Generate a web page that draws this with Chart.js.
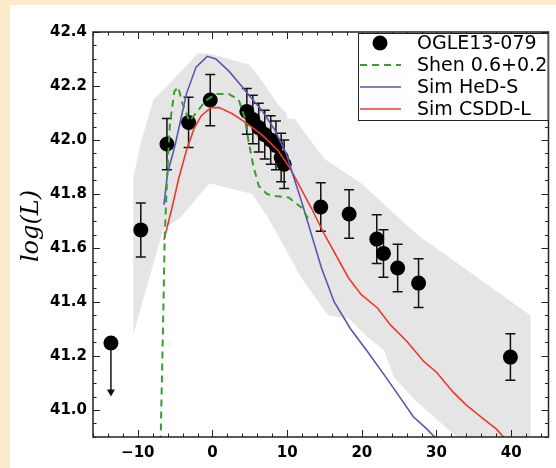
<!DOCTYPE html>
<html>
<head>
<meta charset="utf-8">
<script src="https://cdn.jsdelivr.net/npm/chart.js@4/dist/chart.umd.min.js"></script>
<style>
  html, body { margin: 0; padding: 0; background: #fcebcb; }
  #wrap { position: absolute; left: 0; top: 0; width: 556px; height: 468px; }
</style>
</head>
<body>
<div id="wrap"><canvas id="chart" width="556" height="468"></canvas></div>
<script>
// Axis limits and tick labels
const X_MIN = -16, X_MAX = 45;
const Y_MIN = 40.9, Y_MAX = 42.4;
const xTicks = [-10, 0, 10, 20, 30, 40];
const yTicks = [41.0, 41.2, 41.4, 41.6, 41.8, 42.0, 42.2, 42.4];

// OGLE13-079 photometry (days, log L, 1-sigma)
const obsX = [-9.6, -6.1, -3.2, -0.3, 4.6, 5.4, 6.2, 7.0, 7.8, 8.5, 9.2, 9.6, 14.5, 18.3, 22.0, 22.9, 24.8, 27.6, 39.9];
const obsY = [41.667, 41.985, 42.065, 42.148, 42.106, 42.076, 42.046, 42.02, 42.0, 41.98, 41.935, 41.91, 41.752, 41.726, 41.633, 41.58, 41.526, 41.47, 41.196];
const obsErr = [0.10, 0.095, 0.093, 0.095, 0.085, 0.09, 0.09, 0.09, 0.09, 0.09, 0.09, 0.09, 0.09, 0.09, 0.09, 0.088, 0.088, 0.09, 0.086];

// upper limit
const limX = [-13.6];
const limY = [41.248];
const limArrowTo = [41.05];

// Shen 0.6+0.2 model
const shenX = [-6.95, -6.6, -6.4, -6.04, -5.7, -5.1, -4.6, -4.0, -3.1, -2.2, -0.9, 0.45, 2.2, 3.5, 4.3, 4.8, 5.5, 6.2, 7.3, 8.4, 10.2, 11.9, 12.8];
const shenY = [40.88, 41.34, 41.64, 41.886, 42.06, 42.18, 42.196, 42.134, 42.07, 42.10, 42.146, 42.17, 42.17, 42.15, 42.084, 42.0, 41.9, 41.83, 41.80, 41.793, 41.787, 41.75, 41.71];

// Sim HeD-S
const hedX = [-6.5, -6.0, -5.3, -4.85, -3.5, -2.2, -0.7, 0.45, 2.2, 4.0, 4.9, 6.6, 8.4, 9.9, 10.6, 11.9, 14.6, 16.3, 18.5, 20.75, 23.0, 25.2, 26.9, 28.7, 30.1];
const hedY = [41.76, 41.88, 41.95, 42.0, 42.17, 42.27, 42.31, 42.30, 42.255, 42.196, 42.165, 42.11, 42.035, 41.948, 41.886, 41.775, 41.526, 41.40, 41.30, 41.217, 41.13, 41.043, 40.975, 40.93, 40.89];

// Sim CSDD-L
const csddX = [-6.5, -5.5, -4.5, -3.5, -2.5, -1.5, -0.2, 0.9, 2.65, 4.4, 6.6, 8.8, 10.4, 13.2, 15.0, 18.2, 19.9, 22.1, 23.8, 26.05, 28.3, 30.0, 32.2, 34.0, 36.2, 38.0, 39.3];
const csddY = [41.63, 41.74, 41.86, 41.96, 42.04, 42.09, 42.12, 42.12, 42.097, 42.065, 42.02, 41.96, 41.895, 41.75, 41.65, 41.49, 41.428, 41.378, 41.316, 41.254, 41.18, 41.14, 41.067, 41.018, 40.969, 40.93, 40.89];

// grey model envelope: upper edge left->right, then lower edge right->left
const bandUpperX = [-10.6, -9.5, -7.9, -5.7, -3.0, -2.0, -0.7, 1.0, 2.2, 4.9, 6.6, 8.8, 9.9, 10.0, 11.0, 12.8, 15.0, 19.9, 27.4, 42.6];
const bandUpperY = [41.86, 42.0, 42.15, 42.21, 42.29, 42.32, 42.32, 42.31, 42.30, 42.28, 42.22, 42.13, 42.10, 42.08, 42.08, 42.01, 41.93, 41.84, 41.65, 41.35];
const bandLowerX = [42.6, 36.8, 27.4, 24.3, 23.0, 20.75, 18.2, 15.5, 11.9, 7.5, 5.3, -0.4, -4.4, -6.6, -10.6];
const bandLowerY = [40.8, 40.8, 41.03, 41.12, 41.22, 41.27, 41.34, 41.35, 41.49, 41.71, 41.80, 41.84, 41.71, 41.67, 41.28];

const COLORS = {
    shen: '#35a02b',
    hed: '#5a55b0',
    csdd: '#f0392c',
    band: '#e5e5e5'
};

const toPts = (xs, ys) => xs.map((x, i) => ({ x: x, y: ys[i] }));

const tickFont = { family: 'DejaVu Sans', size: 15, weight: 'bold' };

// error bars, axes frame with inward ticks, legend, y label, upper-limit arrow
const figurePlugin = {
    id: 'figure',
    beforeDraw(chart) {
        const ctx = chart.ctx;
        ctx.save();
        ctx.fillStyle = '#ffffff';
        ctx.fillRect(10, 5, chart.width - 10, chart.height - 5);
        ctx.restore();
    },
    beforeDatasetDraw(chart, args) {
        if (args.index !== 1) return;
        const { ctx, scales: { x, y } } = chart;
        ctx.save();
        ctx.strokeStyle = '#111';
        ctx.lineWidth = 1.5;
        obsX.forEach((v, i) => {
            const px = x.getPixelForValue(v);
            const top = y.getPixelForValue(obsY[i] + obsErr[i]);
            const bot = y.getPixelForValue(obsY[i] - obsErr[i]);
            ctx.beginPath();
            ctx.moveTo(px, top); ctx.lineTo(px, bot);
            ctx.moveTo(px - 5, top); ctx.lineTo(px + 5, top);
            ctx.moveTo(px - 5, bot); ctx.lineTo(px + 5, bot);
            ctx.stroke();
        });
        // upper limit arrow
        limX.forEach((v, i) => {
            const px = x.getPixelForValue(v);
            const p0 = y.getPixelForValue(limY[i]);
            const p1 = y.getPixelForValue(limArrowTo[i]);
            ctx.beginPath();
            ctx.moveTo(px, p0); ctx.lineTo(px, p1 - 6);
            ctx.stroke();
            ctx.fillStyle = '#111';
            ctx.beginPath();
            ctx.moveTo(px - 4, p1 - 7);
            ctx.lineTo(px + 4, p1 - 7);
            ctx.lineTo(px, p1);
            ctx.closePath();
            ctx.fill();
        });
        ctx.restore();
    },
    afterDraw(chart) {
        const { ctx, chartArea: { top, bottom, left, right }, scales: { x, y } } = chart;
        ctx.save();

        // frame
        ctx.strokeStyle = '#222';
        ctx.lineWidth = 1.5;
        ctx.strokeRect(left, top, right - left, bottom - top);

        // inward ticks on all four sides
        ctx.lineWidth = 1;
        ctx.beginPath();
        for (let v = -16; v <= 44; v += 2) {
            const px = Math.round(x.getPixelForValue(v)) + 0.5;
            const len = v % 10 === 0 ? 7 : 3.5;
            ctx.moveTo(px, bottom); ctx.lineTo(px, bottom - len);
            ctx.moveTo(px, top); ctx.lineTo(px, top + len);
        }
        for (let k = 818; k <= 848; k++) {
            const py = Math.round(y.getPixelForValue(k / 20)) + 0.5;
            const len = k % 4 === 0 ? 7 : 3.5;
            ctx.moveTo(left, py); ctx.lineTo(left + len, py);
            ctx.moveTo(right, py); ctx.lineTo(right - len, py);
        }
        ctx.stroke();

        // y axis label
        ctx.save();
        ctx.translate(32, 226);
        ctx.rotate(-Math.PI / 2);
        ctx.font = 'italic 24px "DejaVu Serif"';
        ctx.fillStyle = '#000';
        ctx.textAlign = 'center';
        ctx.textBaseline = 'middle';
        ctx.fillText('log(L)', 0, 0);
        ctx.restore();

        // legend box
        const boxL = 358, boxT = top + 1, boxR = right, boxB = top + 88;
        ctx.fillStyle = '#fff';
        ctx.fillRect(boxL, boxT, boxR - boxL, boxB - boxT);
        ctx.strokeStyle = '#222';
        ctx.lineWidth = 1;
        ctx.strokeRect(boxL + 0.5, boxT + 0.5, boxR - boxL - 1, boxB - boxT);

        const rows = [
            { label: 'OGLE13-079', kind: 'dot' },
            { label: 'Shen 0.6+0.2', kind: 'line', color: COLORS.shen, dash: [7, 5], width: 2 },
            { label: 'Sim HeD-S', kind: 'line', color: COLORS.hed, dash: [], width: 1.6 },
            { label: 'Sim CSDD-L', kind: 'line', color: COLORS.csdd, dash: [], width: 1.6 }
        ];
        ctx.font = '19px "DejaVu Sans"';
        ctx.textAlign = 'left';
        ctx.textBaseline = 'middle';
        rows.forEach((r, i) => {
            const ry = boxT + 10 + i * 22;
            if (r.kind === 'dot') {
                ctx.fillStyle = '#000';
                ctx.beginPath();
                ctx.arc(380, ry, 7.5, 0, 2 * Math.PI);
                ctx.fill();
            } else {
                ctx.strokeStyle = r.color;
                ctx.lineWidth = r.width;
                ctx.setLineDash(r.dash);
                ctx.beginPath();
                ctx.moveTo(360, ry); ctx.lineTo(401, ry);
                ctx.stroke();
                ctx.setLineDash([]);
            }
            ctx.fillStyle = '#000';
            ctx.fillText(r.label, 417, ry + 1);
        });
        ctx.restore();
    }
};

const ctx = document.getElementById('chart').getContext('2d');
new Chart(ctx, {
    type: 'scatter',
    data: {
        datasets: [
            {
                label: 'envelope',
                data: toPts(bandUpperX.concat(bandLowerX), bandUpperY.concat(bandLowerY)),
                showLine: true,
                fill: 'shape',
                backgroundColor: COLORS.band,
                borderColor: COLORS.band,
                borderWidth: 0,
                pointRadius: 0,
                order: 10
            },
            {
                label: 'OGLE13-079',
                data: toPts(obsX, obsY),
                backgroundColor: '#000',
                borderWidth: 0,
                pointRadius: 7.5,
                order: 5
            },
            {
                label: 'limit',
                data: toPts(limX, limY),
                backgroundColor: '#000',
                borderWidth: 0,
                pointRadius: 7.5,
                order: 5
            },
            {
                label: 'Shen 0.6+0.2',
                data: toPts(shenX, shenY),
                showLine: true,
                borderColor: COLORS.shen,
                borderDash: [7, 5],
                borderWidth: 2,
                pointRadius: 0,
                order: 1
            },
            {
                label: 'Sim HeD-S',
                data: toPts(hedX, hedY),
                showLine: true,
                borderColor: COLORS.hed,
                borderWidth: 1.6,
                pointRadius: 0,
                order: 1
            },
            {
                label: 'Sim CSDD-L',
                data: toPts(csddX, csddY),
                showLine: true,
                borderColor: COLORS.csdd,
                borderWidth: 1.6,
                pointRadius: 0,
                order: 1
            }
        ]
    },
    options: {
        responsive: false,
        animation: false,
        events: [],
        layout: { padding: { top: 32, right: 3, left: 0, bottom: 0 } },
        plugins: {
            legend: { display: false },
            tooltip: { enabled: false }
        },
        scales: {
            x: {
                type: 'linear',
                min: X_MIN,
                max: X_MAX,
                afterBuildTicks: (axis) => { axis.ticks = xTicks.map(v => ({ value: v })); },
                afterFit: (axis) => { axis.height = 31; },
                grid: { display: false, drawTicks: false },
                border: { display: false },
                ticks: {
                    color: '#000',
                    font: tickFont,
                    padding: 7,
                    maxRotation: 0,
                    callback: (v) => (v < 0 ? '\u2212' + Math.abs(v) : String(v))
                }
            },
            y: {
                type: 'linear',
                min: Y_MIN,
                max: Y_MAX,
                afterBuildTicks: (axis) => { axis.ticks = yTicks.map(v => ({ value: v })); },
                afterFit: (axis) => { axis.width = 93; },
                grid: { display: false, drawTicks: false },
                border: { display: false },
                ticks: {
                    color: '#000',
                    font: tickFont,
                    padding: 6,
                    callback: (v) => Number(v).toFixed(1)
                }
            }
        }
    },
    plugins: [figurePlugin]
});
</script>
</body>
</html>
